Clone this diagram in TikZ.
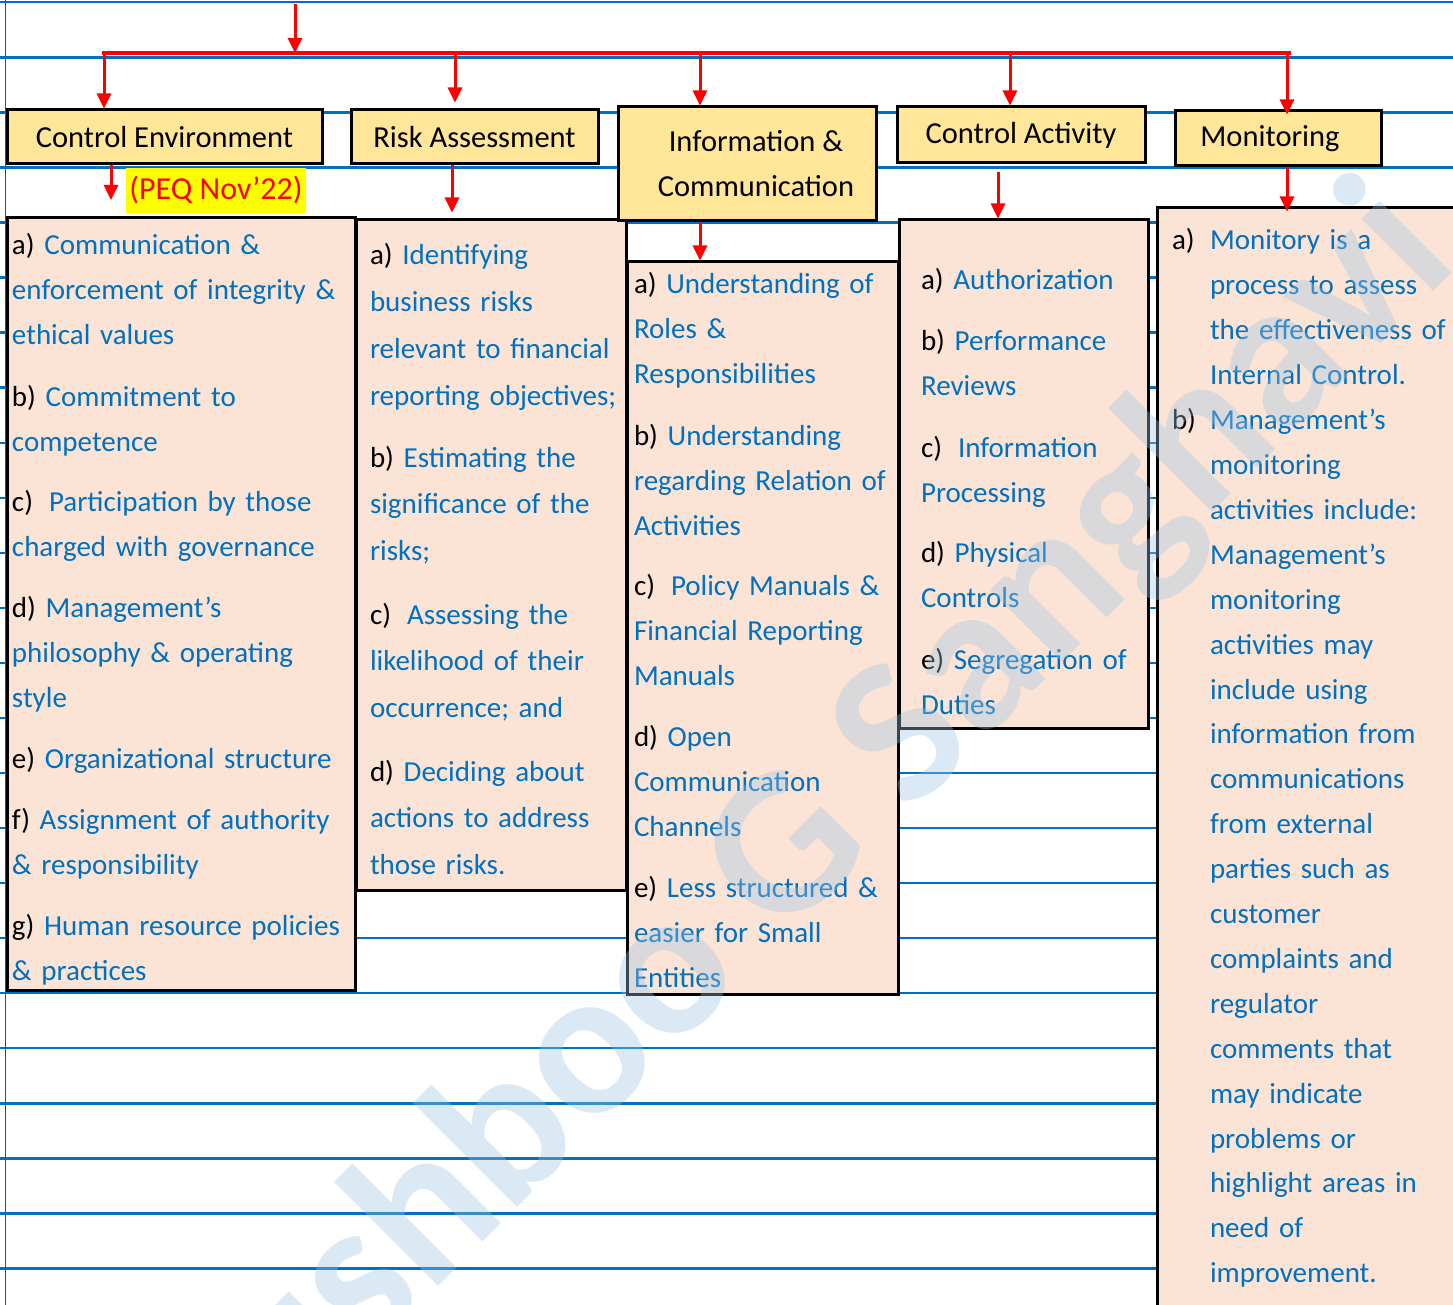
\documentclass[tikz,border=0pt]{standalone}
\usepackage{fontspec}
\setmainfont{Carlito}
\usetikzlibrary{arrows.meta}

\definecolor{ruleblue}{RGB}{0,112,192}
\definecolor{txtblue}{RGB}{0,112,192}
\definecolor{peach}{RGB}{251,228,213}
\definecolor{hdryellow}{RGB}{255,230,153}
\definecolor{arrred}{RGB}{255,0,0}
\definecolor{hiyellow}{RGB}{255,255,0}
\definecolor{wmblue}{RGB}{157,195,230}

% item letters are printed in black, the item text in blue
\newcommand\lbl[1]{\textcolor{black}{#1}}

\tikzset{
  ruling/.style={draw=ruleblue, line width=2.4pt},
  hdrbox/.style={draw=black, line width=3pt, fill=hdryellow, inner sep=0pt,
    font=\fontsize{30.5}{45}\selectfont, text=black, align=center},
  bodybox/.style={draw=black, line width=3pt, fill=peach, inner sep=0pt},
  entry/.style={anchor=base west, inner sep=0pt, outer sep=0pt, text width=420pt,
    align=left, text=txtblue, font=\fontsize{29}{#1}\selectfont},
  entry/.default=45,
  redarrow/.style={draw=arrred, line width=3pt, -{Triangle[length=15pt,width=14pt]}},
  busline/.style={draw=arrred, line width=4.5pt},
}

\begin{document}
\begin{tikzpicture}[x=1pt,y=-1pt]
\useasboundingbox (0,0) rectangle (1453,1305);
\clip (0,0) rectangle (1453,1305);
\fill[white] (0,0) rectangle (1453,1305);

% ruled notebook page
\foreach \k in {0,...,23} {
  \draw[ruling] (0,{2.3+55.05*\k}) -- (1453,{2.3+55.05*\k});
}
\draw[arrred, line width=1pt] (5,0) -- (5,1305);

% detail boxes
\node[bodybox, minimum width=348pt, minimum height=772pt] (ceb) at (181,604) {};
\node[bodybox, minimum width=270pt, minimum height=670pt] (rab) at (491,555) {};
\node[bodybox, minimum width=271pt, minimum height=732pt] (icb) at (762.5,628) {};
\node[bodybox, minimum width=249pt, minimum height=508pt] (cab) at (1023.5,474) {};
\node[bodybox, minimum width=308pt, minimum height=1112pt] (monb) at (1311,764) {};

% component headings
\node[hdrbox, minimum width=315pt, minimum height=54pt] (ce) at (164.5,137) {Control Environment};
\node[hdrbox, minimum width=247pt, minimum height=54pt] (ra) at (474.5,137) {Risk Assessment};
\node[hdrbox, minimum width=258pt, minimum height=114pt] (ic) at (747,164) {\hspace*{18pt}Information \&\\\hspace*{18pt}Communication};
\node[hdrbox, minimum width=248pt, minimum height=56pt] (ca) at (1021,135) {\raisebox{-3pt}{Control Activity}};
\node[hdrbox, minimum width=206pt, minimum height=55pt] (mon) at (1278,138.5) {Monitoring\hspace*{16pt}};

% distribution bus and drops
\coordinate (src) at (295,4);
\coordinate (busJ) at (295,53);
\coordinate (busL) at (102,53);
\coordinate (busR) at (1291,53);
\draw[busline] (busL) -- (busR);
\draw[redarrow] (src) -- (busJ);

\coordinate (d1) at (104,53);
\coordinate (d2) at (455,53);
\coordinate (d3) at (700,53);
\coordinate (d4) at (1010,53);
\coordinate (d5) at (1287,53);
\draw[redarrow] (d1) -- (d1 |- ce.north);
\draw[redarrow, shorten >=6pt] (d2) -- (d2 |- ra.north);
\draw[redarrow] (d3) -- (d3 |- ic.north);
\draw[redarrow] (d4) -- (d4 |- ca.north);
\draw[redarrow, shorten >=-5pt] (d5) -- (d5 |- mon.north);

% heading-to-detail arrows
\coordinate (x1) at (111,200);
\coordinate (x2) at (452,0);
\coordinate (x3) at (700,0);
\coordinate (x4) at (998,0);
\coordinate (x5) at (1287,0);
\draw[redarrow] (x1 |- ce.south) -- (x1);
\draw[redarrow, shorten >=6pt] (x2 |- ra.south) -- (x2 |- rab.north);
\draw[redarrow] (x3 |- ic.south) -- (x3 |- icb.north);
\draw[redarrow, shorten <=8pt] (x4 |- ca.south) -- (x4 |- cab.north);
\draw[redarrow, shorten >=-5pt] (x5 |- mon.south) -- (x5 |- monb.north);

\node[fill=hiyellow, text=arrred, inner sep=0pt, minimum width=180pt, minimum height=45pt,
  font=\fontsize{32}{40}\selectfont] (peq) at (216,190.5) {(PEQ Nov’22)};

% Control Environment
\node[entry] (ce-a) at (12,255) {\lbl{a)} Communication \&\\enforcement of integrity \&\\ethical values};
\node[entry] (ce-b) at (12,406) {\lbl{b)} Commitment to\\competence};
\node[entry] (ce-c) at (12,511) {\lbl{c)}\hspace{0.55em}Participation by those\\charged with governance};
\node[entry] (ce-d) at (12,617) {\lbl{d)} Management’s\\philosophy \& operating\\style};
\node[entry] (ce-e) at (12,768) {\lbl{e)} Organizational structure};
\node[entry] (ce-f) at (12,829) {\lbl{f)} Assignment of authority\\\& responsibility};
\node[entry] (ce-g) at (12,935) {\lbl{g)} Human resource policies\\\& practices};

% Risk Assessment
\node[entry=46.7] (ra-a) at (370,265) {\lbl{a)} Identifying\\business risks\\relevant to financial\\reporting objectives;};
\node[entry=46.7] (ra-b) at (370,467) {\lbl{b)} Estimating the\\significance of the\\risks;};
\node[entry=46.7] (ra-c) at (370,624) {\lbl{c)}\hspace{0.55em}Assessing the\\likelihood of their\\occurrence; and};
\node[entry=46.7] (ra-d) at (370,781) {\lbl{d)} Deciding about\\actions to address\\those risks.};

% Information & Communication
\node[entry] (ic-a) at (634,294) {\lbl{a)} Understanding of\\Roles \&\\Responsibilities};
\node[entry] (ic-b) at (634,445) {\lbl{b)} Understanding\\regarding Relation of\\Activities};
\node[entry] (ic-c) at (634,595) {\lbl{c)}\hspace{0.55em}Policy Manuals \&\\Financial Reporting\\Manuals};
\node[entry] (ic-d) at (634,746) {\lbl{d)} Open\\Communication\\Channels};
\node[entry] (ic-e) at (634,897) {\lbl{e)} Less structured \&\\easier for Small\\Entities};

% Control Activity
\node[entry] (ca-a) at (921,290) {\lbl{a)} Authorization};
\node[entry] (ca-b) at (921,351) {\lbl{b)} Performance\\Reviews};
\node[entry] (ca-c) at (921,457) {\lbl{c)}\hspace{0.55em}Information\\Processing};
\node[entry] (ca-d) at (921,562) {\lbl{d)} Physical\\Controls};
\node[entry] (ca-e) at (921,669) {\lbl{e)} Segregation of\\Duties};

% Monitoring
\node[entry, text=black] (mon-al) at (1172,250) {a)};
\node[entry=44.9] (mon-a) at (1210,250) {Monitory is a\\process to assess\\the effectiveness of\\Internal Control.};
\node[entry, text=black] (mon-bl) at (1172,429.6) {b)};
\node[entry=44.9] (mon-b) at (1210,429.6) {Management’s\\monitoring\\activities include:\\Management’s\\monitoring\\activities may\\include using\\information from\\communications\\from external\\parties such as\\customer\\complaints and\\regulator\\comments that\\may indicate\\problems or\\highlight areas in\\need of\\improvement.};

% watermark
\node[rotate=45, text=wmblue, text opacity=0.36, inner sep=0pt,
  font=\fontsize{210}{210}\selectfont\bfseries] (wm) at (836,810) {ushboo G Sanghavi};

\end{tikzpicture}
\end{document}
